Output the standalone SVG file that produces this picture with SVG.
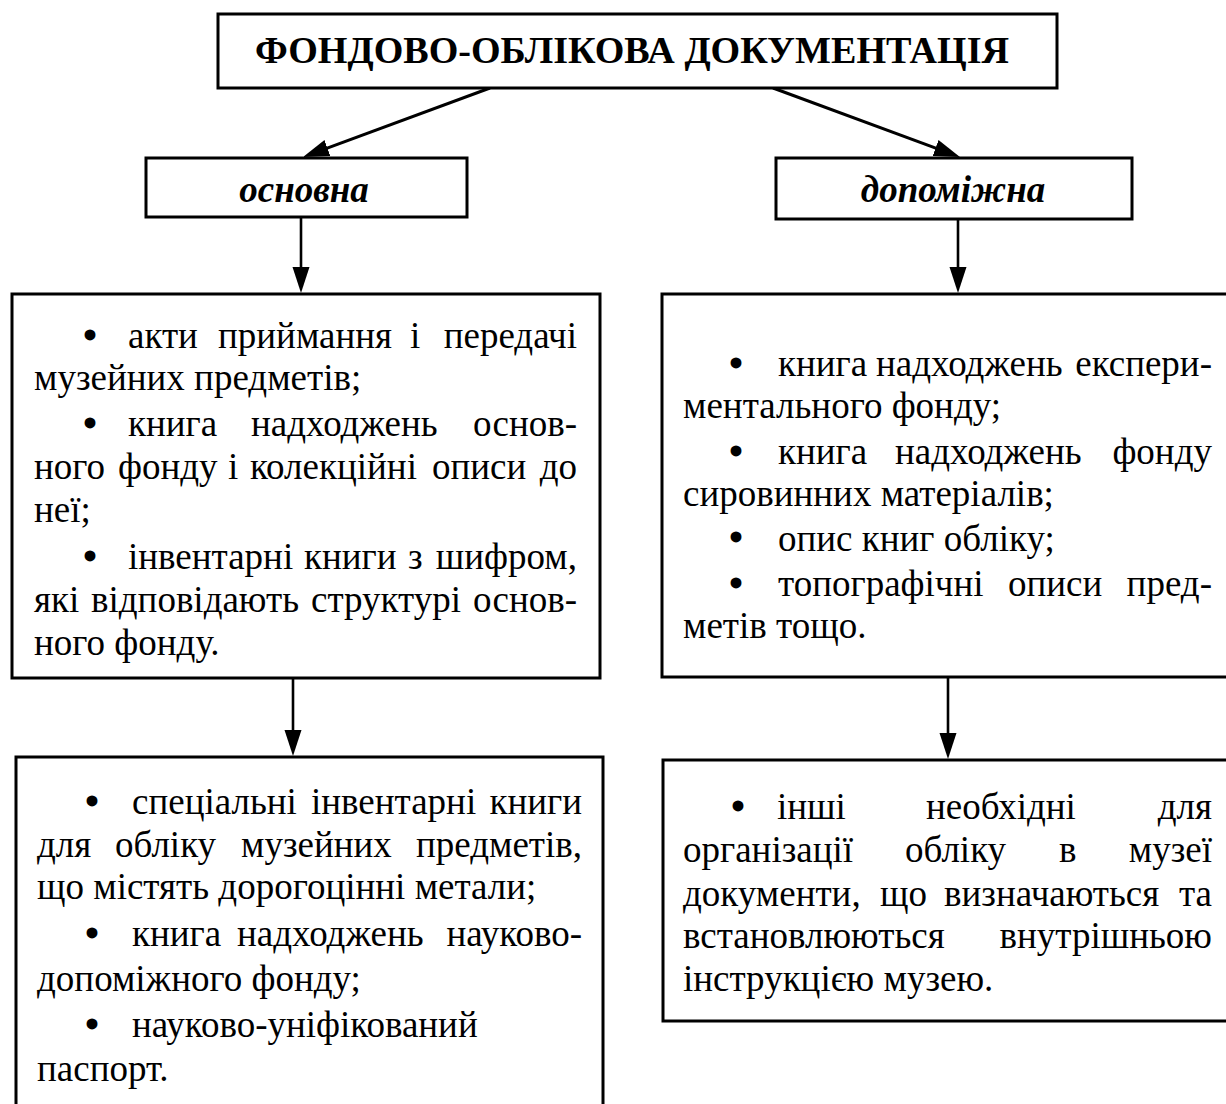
<svg xmlns="http://www.w3.org/2000/svg" width="1226" height="1104" viewBox="0 0 1226 1104">
<style>
.box{fill:#fff;stroke:#000;stroke-width:3}
.t{font-family:"Liberation Serif","Times New Roman",serif;font-size:37px;fill:#000}
.bl{font-family:"Liberation Serif","Times New Roman",serif;font-size:40px;font-weight:bold;fill:#000;text-anchor:middle}
.b{font-weight:bold}
.bi{font-weight:bold;font-style:italic}
.e{text-anchor:end}
.m{text-anchor:middle}
.conn{stroke:#000;stroke-width:3;fill:none}
.vc{stroke:#000;stroke-width:2.6;fill:none}
</style>
<defs>
<marker id="ah" markerUnits="userSpaceOnUse" markerWidth="30" markerHeight="20" refX="6" refY="0" viewBox="0 -10 30 20" orient="auto">
<path d="M0,-8.5 L26,0 L0,8.5 z" fill="#000"/>
</marker>
</defs>
<rect width="1226" height="1104" fill="#fff"/>

<g id="connectors">
<line class="conn" x1="490" y1="88" x2="321.8" y2="150.1" marker-end="url(#ah)"/>
<line class="conn" x1="773" y1="88" x2="941.2" y2="150.1" marker-end="url(#ah)"/>
<line class="vc" x1="301" y1="218" x2="301" y2="273" marker-end="url(#ah)"/>
<line class="vc" x1="958" y1="220" x2="958" y2="273" marker-end="url(#ah)"/>
<line class="vc" x1="293" y1="679" x2="293" y2="736" marker-end="url(#ah)"/>
<line class="vc" x1="948" y1="677" x2="948" y2="739" marker-end="url(#ah)"/>
</g>

<g id="node-root">
<rect class="box" x="218" y="14" width="839" height="74"/>
<text class="t b m" x="632" y="63" textLength="754" lengthAdjust="spacingAndGlyphs">ФОНДОВО-ОБЛІКОВА ДОКУМЕНТАЦІЯ</text>
</g>

<g id="node-osnovna">
<rect class="box" x="146" y="158" width="321" height="59"/>
<text class="t bi m" x="304" y="202">основна</text>
</g>

<g id="node-dopomizhna">
<rect class="box" x="776" y="158" width="356" height="61"/>
<text class="t bi m" x="953" y="202">допоміжна</text>
</g>

<g id="node-main-docs">
<rect class="box" x="12" y="294" width="588" height="384"/>
<text class="bl" x="90" y="349">•</text>
<text class="t" x="128" y="348">акти</text>
<text class="t" x="218" y="348">приймання</text>
<text class="t" x="410" y="348">і</text>
<text class="t e" x="577" y="348">передачі</text>
<text class="t" x="34" y="390">музейних предметів;</text>
<text class="bl" x="90" y="437">•</text>
<text class="t" x="128" y="436">книга</text>
<text class="t" x="251" y="436">надходжень</text>
<text class="t e" x="577" y="436">основ-</text>
<text class="t" x="34" y="479">ного</text>
<text class="t" x="118" y="479">фонду</text>
<text class="t" x="228" y="479">і</text>
<text class="t" x="250" y="479">колекційні</text>
<text class="t" x="432" y="479">описи</text>
<text class="t e" x="577" y="479">до</text>
<text class="t" x="34" y="522">неї;</text>
<text class="bl" x="90" y="570">•</text>
<text class="t" x="128" y="569">інвентарні</text>
<text class="t" x="304" y="569">книги</text>
<text class="t" x="408" y="569">з</text>
<text class="t e" x="577" y="569">шифром,</text>
<text class="t" x="34" y="612">які</text>
<text class="t" x="91" y="612">відповідають</text>
<text class="t" x="311" y="612">структурі</text>
<text class="t e" x="577" y="612">основ-</text>
<text class="t" x="34" y="655">ного фонду.</text>
</g>

<g id="node-aux-docs">
<rect class="box" x="662" y="294" width="600" height="383"/>
<text class="bl" x="736" y="377">•</text>
<text class="t" x="778" y="376">книга</text>
<text class="t" x="876" y="376">надходжень</text>
<text class="t e" x="1212" y="376">експери-</text>
<text class="t" x="683" y="418">ментального фонду;</text>
<text class="bl" x="736" y="465">•</text>
<text class="t" x="778" y="464">книга</text>
<text class="t" x="895" y="464">надходжень</text>
<text class="t e" x="1212" y="464">фонду</text>
<text class="t" x="683" y="506">сировинних матеріалів;</text>
<text class="bl" x="736" y="551">•</text>
<text class="t" x="778" y="551">опис книг обліку;</text>
<text class="bl" x="736" y="597">•</text>
<text class="t" x="778" y="596">топографічні</text>
<text class="t" x="1008" y="596">описи</text>
<text class="t e" x="1212" y="596">пред-</text>
<text class="t" x="683" y="638">метів тощо.</text>
</g>

<g id="node-main-extra">
<rect class="box" x="16" y="757" width="587" height="400"/>
<text class="bl" x="92" y="815">•</text>
<text class="t" x="132" y="814">спеціальні</text>
<text class="t" x="311" y="814">інвентарні</text>
<text class="t e" x="582" y="814">книги</text>
<text class="t" x="37" y="857">для</text>
<text class="t" x="115" y="857">обліку</text>
<text class="t" x="241" y="857">музейних</text>
<text class="t e" x="582" y="857">предметів,</text>
<text class="t" x="37" y="899">що містять дорогоцінні метали;</text>
<text class="bl" x="92" y="947">•</text>
<text class="t" x="132" y="946">книга</text>
<text class="t" x="237" y="946">надходжень</text>
<text class="t e" x="582" y="946">науково-</text>
<text class="t" x="37" y="991">допоміжного фонду;</text>
<text class="bl" x="92" y="1038">•</text>
<text class="t" x="132" y="1037">науково-уніфікований</text>
<text class="t" x="37" y="1081">паспорт.</text>
</g>

<g id="node-aux-extra">
<rect class="box" x="663" y="760" width="600" height="261"/>
<text class="bl" x="738" y="820">•</text>
<text class="t" x="777" y="819">інші</text>
<text class="t" x="926" y="819">необхідні</text>
<text class="t e" x="1212" y="819">для</text>
<text class="t" x="683" y="862">організації</text>
<text class="t" x="905" y="862">обліку</text>
<text class="t" x="1059" y="862">в</text>
<text class="t e" x="1212" y="862">музеї</text>
<text class="t" x="683" y="906">документи,</text>
<text class="t" x="880" y="906">що</text>
<text class="t" x="944" y="906">визначаються</text>
<text class="t e" x="1212" y="906">та</text>
<text class="t" x="683" y="948">встановлюються</text>
<text class="t e" x="1212" y="948">внутрішньою</text>
<text class="t" x="683" y="991">інструкцією музею.</text>
</g>
</svg>
